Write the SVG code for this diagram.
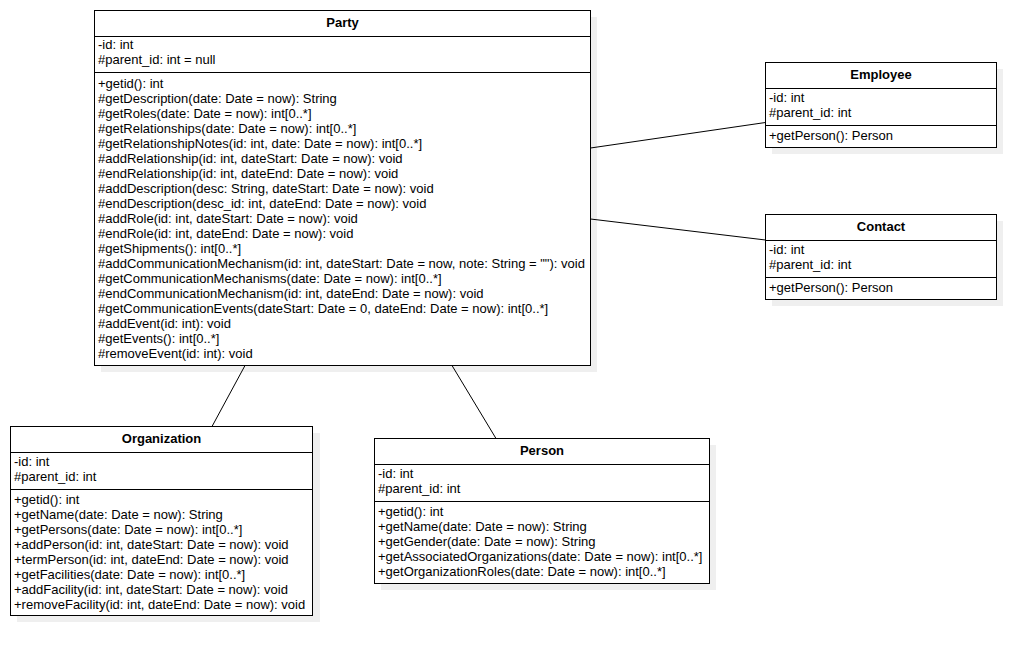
<svg xmlns="http://www.w3.org/2000/svg" width="1036" height="656" viewBox="0 0 1036 656">
<style>
.shadow{fill:#efefef;stroke:none}
.box{fill:#ffffff;stroke:#000;stroke-width:1}
.div{stroke:#000;stroke-width:1}
.t{font-family:"Liberation Sans",Arial,sans-serif;font-size:13px;fill:#000}
.h{font-family:"Liberation Sans",Arial,sans-serif;font-size:13px;font-weight:bold;fill:#000;text-anchor:middle}
.c{stroke:#000;stroke-width:1;fill:none}
</style>
<rect width="1036" height="656" fill="#ffffff"/>
<g id="party">
<rect class="shadow" x="101" y="17" width="496" height="355"/>
<rect class="box" x="94.5" y="10.5" width="496" height="355"/>
<line class="div" x1="94.5" y1="36.5" x2="590.5" y2="36.5"/>
<line class="div" x1="94.5" y1="72.5" x2="590.5" y2="72.5"/>
<text class="h" x="342.5" y="27">Party</text>
<text class="t" x="98" y="49">-id: int</text>
<text class="t" x="98" y="64">#parent_id: int = null</text>
<text class="t" x="98" y="88">+getid(): int</text>
<text class="t" x="98" y="103">#getDescription(date: Date = now): String</text>
<text class="t" x="98" y="118">#getRoles(date: Date = now): int[0..*]</text>
<text class="t" x="98" y="133">#getRelationships(date: Date = now): int[0..*]</text>
<text class="t" x="98" y="148">#getRelationshipNotes(id: int, date: Date = now): int[0..*]</text>
<text class="t" x="98" y="163">#addRelationship(id: int, dateStart: Date = now): void</text>
<text class="t" x="98" y="178">#endRelationship(id: int, dateEnd: Date = now): void</text>
<text class="t" x="98" y="193">#addDescription(desc: String, dateStart: Date = now): void</text>
<text class="t" x="98" y="208">#endDescription(desc_id: int, dateEnd: Date = now): void</text>
<text class="t" x="98" y="223">#addRole(id: int, dateStart: Date = now): void</text>
<text class="t" x="98" y="238">#endRole(id: int, dateEnd: Date = now): void</text>
<text class="t" x="98" y="253">#getShipments(): int[0..*]</text>
<text class="t" x="98" y="268">#addCommunicationMechanism(id: int, dateStart: Date = now, note: String = ""): void</text>
<text class="t" x="98" y="283">#getCommunicationMechanisms(date: Date = now): int[0..*]</text>
<text class="t" x="98" y="298">#endCommunicationMechanism(id: int, dateEnd: Date = now): void</text>
<text class="t" x="98" y="313">#getCommunicationEvents(dateStart: Date = 0, dateEnd: Date = now): int[0..*]</text>
<text class="t" x="98" y="328">#addEvent(id: int): void</text>
<text class="t" x="98" y="343">#getEvents(): int[0..*]</text>
<text class="t" x="98" y="358">#removeEvent(id: int): void</text>
</g>
<g id="employee">
<rect class="shadow" x="772" y="69" width="231" height="85"/>
<rect class="box" x="765.5" y="62.5" width="231" height="85"/>
<line class="div" x1="765.5" y1="88.5" x2="996.5" y2="88.5"/>
<line class="div" x1="765.5" y1="125.5" x2="996.5" y2="125.5"/>
<text class="h" x="881" y="79">Employee</text>
<text class="t" x="769" y="102">-id: int</text>
<text class="t" x="769" y="117">#parent_id: int</text>
<text class="t" x="769" y="140">+getPerson(): Person</text>
</g>
<g id="contact">
<rect class="shadow" x="772" y="221" width="231" height="85"/>
<rect class="box" x="765.5" y="214.5" width="231" height="85"/>
<line class="div" x1="765.5" y1="240.5" x2="996.5" y2="240.5"/>
<line class="div" x1="765.5" y1="277.5" x2="996.5" y2="277.5"/>
<text class="h" x="881" y="231">Contact</text>
<text class="t" x="769" y="254">-id: int</text>
<text class="t" x="769" y="269">#parent_id: int</text>
<text class="t" x="769" y="292">+getPerson(): Person</text>
</g>
<g id="organization">
<rect class="shadow" x="17" y="433" width="303" height="189"/>
<rect class="box" x="10.5" y="426.5" width="302" height="189"/>
<line class="div" x1="10.5" y1="452.5" x2="312.5" y2="452.5"/>
<line class="div" x1="10.5" y1="489.5" x2="312.5" y2="489.5"/>
<text class="h" x="161.5" y="443">Organization</text>
<text class="t" x="14" y="466">-id: int</text>
<text class="t" x="14" y="481">#parent_id: int</text>
<text class="t" x="14" y="504">+getid(): int</text>
<text class="t" x="14" y="519">+getName(date: Date = now): String</text>
<text class="t" x="14" y="534">+getPersons(date: Date = now): int[0..*]</text>
<text class="t" x="14" y="549">+addPerson(id: int, dateStart: Date = now): void</text>
<text class="t" x="14" y="564">+termPerson(id: int, dateEnd: Date = now): void</text>
<text class="t" x="14" y="579">+getFacilities(date: Date = now): int[0..*]</text>
<text class="t" x="14" y="594">+addFacility(id: int, dateStart: Date = now): void</text>
<text class="t" x="14" y="609">+removeFacility(id: int, dateEnd: Date = now): void</text>
</g>
<g id="person">
<rect class="shadow" x="381" y="445" width="335" height="145"/>
<rect class="box" x="374.5" y="438.5" width="335" height="145"/>
<line class="div" x1="374.5" y1="464.5" x2="709.5" y2="464.5"/>
<line class="div" x1="374.5" y1="501.5" x2="709.5" y2="501.5"/>
<text class="h" x="542" y="455">Person</text>
<text class="t" x="378" y="478">-id: int</text>
<text class="t" x="378" y="493">#parent_id: int</text>
<text class="t" x="378" y="516">+getid(): int</text>
<text class="t" x="378" y="531">+getName(date: Date = now): String</text>
<text class="t" x="378" y="546">+getGender(date: Date = now): String</text>
<text class="t" x="378" y="561">+getAssociatedOrganizations(date: Date = now): int[0..*]</text>
<text class="t" x="378" y="576">+getOrganizationRoles(date: Date = now): int[0..*]</text>
</g>
<g id="connectors">
<line class="c" x1="590.5" y1="148" x2="765.5" y2="122.5"/>
<line class="c" x1="590.5" y1="219" x2="765.5" y2="240"/>
<line class="c" x1="245" y1="365.5" x2="212" y2="426.5"/>
<line class="c" x1="452" y1="365.5" x2="496" y2="438.5"/>
</g>
</svg>
